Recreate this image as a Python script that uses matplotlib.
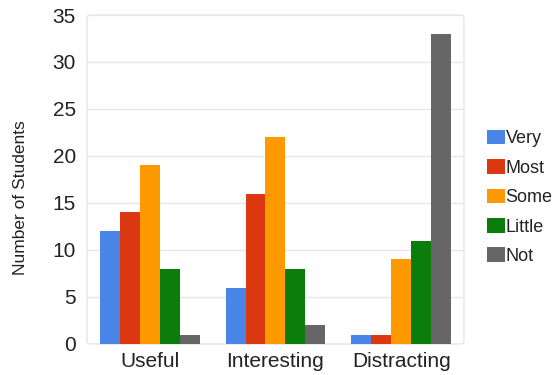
import matplotlib
matplotlib.use("Agg")
import matplotlib.pyplot as plt
import numpy as np
from matplotlib.patches import FancyBboxPatch, Patch

plt.rcParams['font.family'] = ['Liberation Sans', 'DejaVu Sans']

categories = ["Useful", "Interesting", "Distracting"]
series_names = ["Very", "Most", "Some", "Little", "Not"]
very = [12, 6, 1]
most = [14, 16, 1]
some = [19, 22, 9]
little = [8, 8, 11]
not_at_all = [1, 2, 33]
series_values = [very, most, some, little, not_at_all]
colors = ["#4a86e8", "#dc3912", "#ff9900", "#0a7d0a", "#666666"]
y_ticks = [0, 5, 10, 15, 20, 25, 30, 35]

fig = plt.figure(figsize=(5.58, 3.75), dpi=100)
ax = fig.add_axes([0.1559, 0.0827, 0.6756, 0.8773])

x = np.arange(len(categories))
bw = 0.159
offsets = (np.arange(len(series_names)) - 2) * bw
for vals, off, col in zip(series_values, offsets, colors):
    ax.bar(x + off, vals, width=bw, color=col, edgecolor='none', zorder=3)

ax.set_xlim(-0.5, 2.5)
ax.set_ylim(0, 35)
ax.set_yticks(y_ticks)
ax.set_yticklabels([str(t) for t in y_ticks], fontsize=15, color='#222222')
ax.set_xticks(x)
ax.set_xticklabels(categories, fontsize=15, color='#222222')
ax.tick_params(length=0, pad=8)
ax.tick_params(axis='x', pad=6)
ax.grid(axis='y', color='#e6e6e6', linewidth=1, zorder=0)
for s in ax.spines.values():
    s.set_visible(False)

# rounded light frame around the plot area
frame = FancyBboxPatch((0, 0), 1, 1, boxstyle="round,pad=0,rounding_size=0.01",
                       transform=ax.transAxes, facecolor='none',
                       edgecolor='#e6e6e6', linewidth=1, zorder=1, clip_on=False)
ax.add_patch(frame)

fig.text(0.037, 1 - 198 / 375, "Number of Students", rotation=90,
         ha='center', va='center', fontsize=12.5, color='#222222')

handles = [Patch(facecolor=c, edgecolor='none') for c in colors]
leg = fig.legend(handles, series_names, loc='upper left',
                 bbox_to_anchor=(0.872, 1 - 130 / 375), frameon=False,
                 fontsize=13, handlelength=1.0, handleheight=0.85,
                 handletextpad=0.05, labelspacing=0.66, borderaxespad=0,
                 borderpad=0)
for t in leg.get_texts():
    t.set_color('#222222')

fig.savefig("out.png", dpi=100)
